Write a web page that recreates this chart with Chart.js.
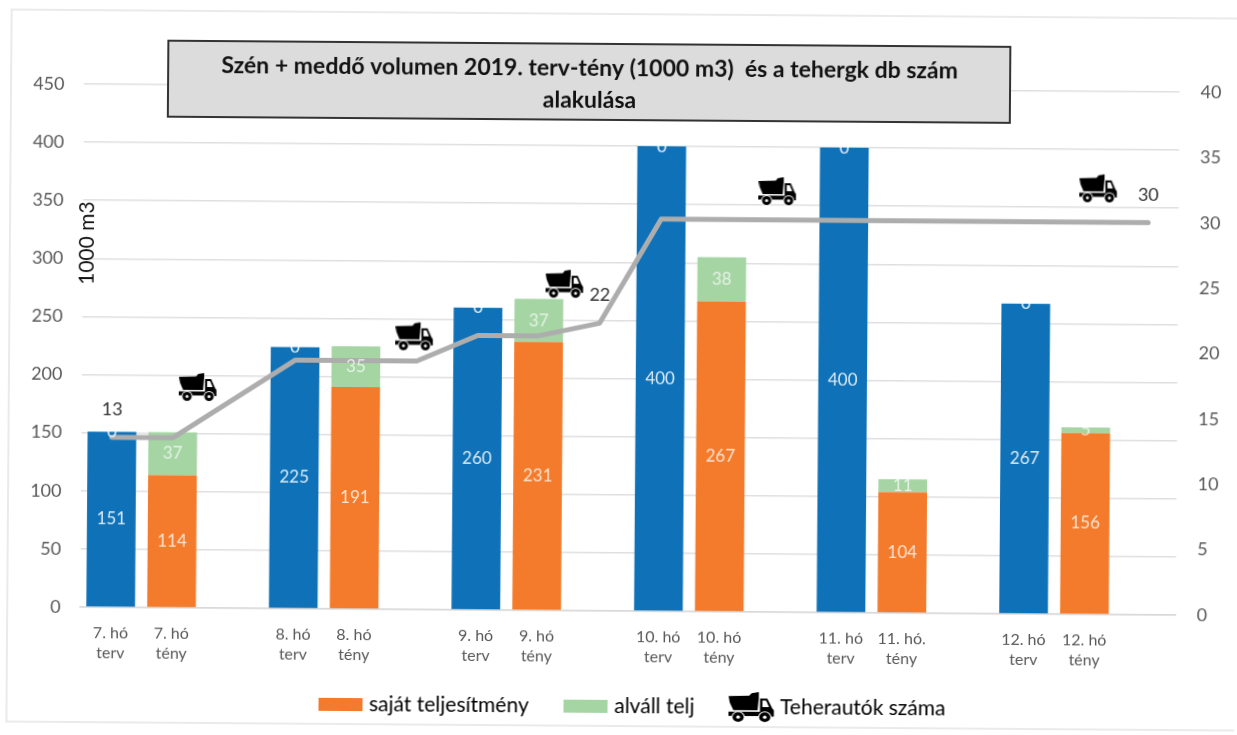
<!DOCTYPE html>
<html lang="hu">
<head>
<meta charset="utf-8">
<title>Szén + meddő volumen</title>
<script src="https://cdn.jsdelivr.net/npm/chart.js@4/dist/chart.umd.min.js"></script>
<style>
html,body{margin:0;padding:0;background:#fff;overflow:hidden}
canvas{display:block;transform:rotate(0.42deg);transform-origin:618.5px 367.5px}
</style>
</head>
<body>
<canvas id="c" width="1237" height="735"></canvas>
<script>
const categories = [["7. hó","terv"],["7. hó","tény"],"",["8. hó","terv"],["8. hó","tény"],"",["9. hó","terv"],["9. hó","tény"],"",["10. hó","terv"],["10. hó","tény"],"",["11. hó","terv"],["11. hó.","tény"],"",["12. hó","terv"],["12. hó","tény"],""];
const tervValues   = [151,null,null,225,null,null,260,null,null,400,null,null,400,null,null,267,null,null];
const sajatValues  = [null,114,null,null,191,null,null,231,null,null,267,null,null,104,null,null,156,null];
const alvallValues = [null,37,null,null,35,null,null,37,null,null,38,null,null,11,null,null,5,null];
const nullaValues  = [0,null,null,0,null,null,0,null,null,0,null,null,0,null,null,0,null,null];
const truckLine    = [13,13,null,19,19,19,21,21,22,30,30,30,30,30,30,30,30,30];
const lineLabelled = [0,8,17];
const truckSlots   = [1.41,4.96,7.42,10.91,16.18];
const truckValues  = [16.9,20.9,25,32.2,32.6];
const leftTicksMax = 450, rightTicksMax = 40;
const seriesNames  = {sajat:"saját teljesítmény", alvall:"alváll telj", truck:"Teherautók száma", terv:"terv"};
const titleLines   = ["Szén + meddő volumen 2019. terv-tény (1000 m3)  és a tehergk db szám","alakulása"];
const axisCaption  = "1000 m3";

const BLUE="#0f72b8", ORANGE="#f47b2b", GREEN="#a5d5a3", GREY="#adadad", FONT="Lato, 'Open Sans', sans-serif";

function truckCanvas(w,h){
  const c=document.createElement('canvas');c.width=w;c.height=h;
  const g=c.getContext('2d');g.scale(w/38,h/30);g.fillStyle='#000';
  g.beginPath();g.moveTo(0,5);g.lineTo(17,4.5);g.lineTo(19,2);g.lineTo(25,1);g.lineTo(25,6);g.lineTo(24,18);g.lineTo(4,18);g.lineTo(1,11);g.closePath();g.fill();
  g.beginPath();g.moveTo(26,7);g.lineTo(32,7);g.lineTo(36,16);g.lineTo(37.5,18);g.lineTo(37.5,24);g.lineTo(26,24);g.closePath();g.fill();
  g.fillRect(0,19.5,36,4);
  g.fillStyle='#fff';g.beginPath();g.moveTo(28,9);g.lineTo(31,9);g.lineTo(33.5,15);g.lineTo(28,15);g.closePath();g.fill();
  [8,30].forEach(x=>{
    g.fillStyle='#fff';g.beginPath();g.arc(x,24.5,5.5,0,7);g.fill();
    g.fillStyle='#000';g.beginPath();g.arc(x,24.5,4.6,0,7);g.fill();
    g.fillStyle='#fff';g.beginPath();g.arc(x,24.5,1.5,0,7);g.fill();
  });
  return c;
}
function swatch(color){const c=document.createElement('canvas');c.width=44;c.height=13;const g=c.getContext('2d');g.fillStyle=color;g.fillRect(0,0,44,13);return c;}
const truckIcon=truckCanvas(38,30), truckLegend=truckCanvas(46,32);

const decorPlugin={
  id:'decor',
  beforeDraw(chart){
    const g=chart.ctx;g.save();
    g.strokeStyle='#e4e4e4';g.lineWidth=1.5;g.strokeRect(9,14,1400,712);
    g.restore();
  },
  afterLayout(chart){
    const t=chart.titleBlock;
    if(t&&!t._wrapped){
      t._wrapped=true;
      const orig=t.draw;
      t.draw=function(a){
        const g=chart.ctx;g.save();
        g.fillStyle='#dcdcdc';g.strokeStyle='#333';g.lineWidth=2;
        g.fillRect(166,44,842,76);g.strokeRect(166,44,842,76);
        g.translate(-31,0);
        orig.call(this,a);
        g.restore();
      };
    }
    const l=chart.legend;
    if(l&&!l._wrapped){
      l._wrapped=true;
      const orig=l.draw;
      l.draw=function(a){
        const g=chart.ctx;g.save();g.translate(18,-8.5);orig.call(this,a);g.restore();
      };
    }
  },
  afterDatasetsDraw(chart){
    const g=chart.ctx;g.save();
    g.textAlign='center';g.textBaseline='middle';
    chart.data.datasets.forEach((ds,i)=>{
      if(ds.type==='line'||ds.type==='scatter')return;
      chart.getDatasetMeta(i).data.forEach((el,j)=>{
        const v=ds.data[j];
        if(v===null)return;
        g.font="17px "+FONT;
        g.fillStyle=ds.labelColor;
        g.fillText(String(v),el.x,(el.y+el.base)/2);
      });
    });
    const li=chart.data.datasets.findIndex(d=>d.type==='line');
    const pts=chart.getDatasetMeta(li).data;
    g.font="18px "+FONT;g.fillStyle='#333';
    lineLabelled.forEach(k=>g.fillText(String(truckLine[k]),pts[k].x,pts[k].y-28));
    g.restore();
    g.save();
    g.translate(86,247);g.rotate(-Math.PI/2);
    g.font="21px "+FONT;g.fillStyle='#111';g.textAlign='center';g.textBaseline='middle';
    g.fillText(axisCaption,0,0);
    g.restore();
  }
};

new Chart(document.getElementById('c'),{
  type:'bar',
  plugins:[decorPlugin],
  data:{
    labels:categories,
    datasets:[
      {type:'line',label:'vonal',data:truckLine,yAxisID:'y1',borderColor:GREY,borderWidth:5,pointRadius:0,spanGaps:true,tension:0,borderCapStyle:'round',borderJoinStyle:'round',order:0},
      {type:'scatter',label:seriesNames.truck,data:truckSlots.map((s,i)=>({x:s,y:truckValues[i]})),xAxisID:'xTruck',yAxisID:'y1',pointStyle:truckIcon,pointRadius:15,order:0},
      {label:seriesNames.terv,data:tervValues,backgroundColor:BLUE,stack:'a',yAxisID:'y',order:1,labelColor:'rgba(255,255,255,.85)'},
      {label:seriesNames.sajat,data:sajatValues,backgroundColor:ORANGE,stack:'a',yAxisID:'y',order:1,labelColor:'rgba(255,255,255,.8)'},
      {label:seriesNames.alvall,data:alvallValues,backgroundColor:GREEN,stack:'a',yAxisID:'y',order:1,labelColor:'rgba(255,255,255,.7)'},
      {label:'nulla',data:nullaValues,backgroundColor:BLUE,stack:'a',yAxisID:'y',order:1,labelColor:'rgba(255,255,255,.9)'}
    ]
  },
  options:{
    responsive:false,animation:false,
    devicePixelRatio:1,
    layout:{padding:{left:0,right:0,top:0,bottom:0}},
    datasets:{bar:{barPercentage:0.8,categoryPercentage:1,grouped:false}},
    plugins:{
      tooltip:{enabled:false},
      title:{display:true,text:titleLines,color:'#111',font:{family:FONT,size:23,weight:'bold',lineHeight:32/23},padding:{top:52.5,bottom:-28.5}},
      legend:{
        display:true,position:'bottom',maxHeight:70,
        labels:{
          usePointStyle:true,pointStyleWidth:36,color:'#444',padding:39,
          font:{family:FONT,size:21},
          generateLabels(){return [
            {text:seriesNames.sajat,pointStyle:swatch(ORANGE),fillStyle:ORANGE,lineWidth:0,hidden:false},
            {text:seriesNames.alvall,pointStyle:swatch(GREEN),fillStyle:GREEN,lineWidth:0,hidden:false},
            {text:seriesNames.truck,pointStyle:truckLegend,fillStyle:'#000',lineWidth:0,hidden:false}
          ];}
        }
      }
    },
    scales:{
      x:{stacked:true,offset:true,grid:{display:false},border:{display:true,color:'#d8d8d8',width:1.5},
         afterFit(s){s.height=54;},
         ticks:{color:'#595959',font:{family:FONT,size:16,lineHeight:1.3},maxRotation:0,minRotation:0,autoSkip:false,padding:7}},
      xTruck:{type:'linear',display:false,offset:false,min:-0.5,max:17.5,grid:{display:false}},
      y:{position:'left',stacked:true,min:0,max:leftTicksMax,afterFit(s){s.width=82;},
         grid:{color:'#dfdfdf',lineWidth:1.5,drawTicks:false},border:{display:false},
         ticks:{stepSize:50,color:'#595959',font:{family:FONT,size:18},padding:19.5}},
      y1:{position:'right',min:0,max:rightTicksMax,afterFit(s){s.width=59.5;},
         grid:{display:false,drawTicks:false},border:{display:false},
         ticks:{stepSize:5,color:'#595959',font:{family:FONT,size:18},padding:21}}
    }
  }
});
</script>
</body>
</html>
